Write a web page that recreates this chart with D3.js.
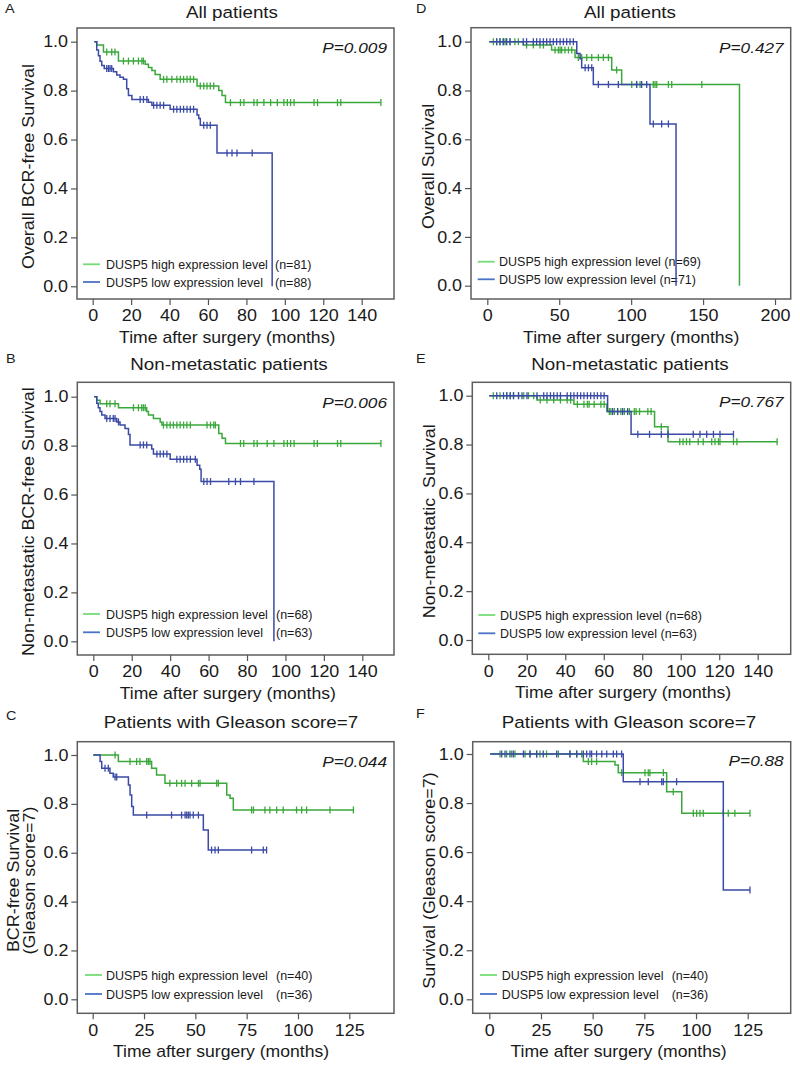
<!DOCTYPE html>
<html><head><meta charset="utf-8">
<script src="https://cdn.jsdelivr.net/npm/d3@7"></script>
<style>body{margin:0;background:#fff}svg{display:block}text{font-family:"Liberation Sans",Arial,sans-serif;fill:#1a1a1a}</style>
</head><body>
<svg id="c" width="800" height="1067"></svg>
<script>
// ---------- DATA (time in months, survival proportion) ----------
// Panel A: All patients, BCR-free survival
const aHighSteps = [[0.85,1],[2.1,0.987],[5.6,0.958],[13.4,0.921],[27.3,0.908],[29.0,0.895],[30.8,0.882],[32.5,0.866],[35.1,0.846],[54.3,0.819],[65.6,0.80],[67.3,0.78],[69.1,0.751]];
const aHighCensor = [7.3,9.9,11.6,16,18.6,21.2,23.8,25.6,26.4,36.9,38.6,41.2,43.8,45.6,47.3,49.1,50.8,52.5,56,57.8,59.5,61.2,63,71.7,76.9,78.7,83.9,85.6,89.1,92.6,96.1,99.5,101.3,103,104.8,115.2,117,127.4,129.1,150];
const aHighEnd = 150;
const aLowSteps = [[0.85,1],[2.1,0.966],[3.0,0.943],[3.8,0.92],[4.7,0.903],[6.0,0.89],[10.8,0.877],[12.5,0.864],[14.2,0.855],[16.0,0.846],[17.7,0.808],[18.6,0.78],[20.4,0.764],[29.0,0.752],[30.8,0.74],[40.3,0.724],[54.3,0.70],[55.2,0.686],[56.0,0.658],[64.7,0.545],[93.4,0]];
const aLowCensor = [7.3,8.2,9.0,9.9,24.7,26.4,28.2,31.7,33.4,35.1,36.9,42.1,43.8,45.6,47.3,49.1,50.8,52.5,57.8,59.5,61.2,69.9,72.5,75.1,83.0];
const aLowEnd = 93.4;

// Panel B: Non-metastatic patients, BCR-free survival
const bHighSteps = [[0.5,1],[1.8,0.985],[3.5,0.971],[13.1,0.955],[27.8,0.939],[28.7,0.925],[31.3,0.911],[34.8,0.897],[35.7,0.884],[65.3,0.85],[67.0,0.83],[68.8,0.809]];
const bHighCensor = [7.0,8.7,11.3,20.9,23.5,25.2,26.1,27.0,36.5,38.3,40.0,41.7,43.5,45.2,47.0,48.7,50.5,59.2,61.0,62.7,63.5,76.6,78.3,83.6,85.3,90.5,94.0,99.2,101.0,102.7,104.5,114.9,116.6,127.1,128.8,149.7];
const bHighEnd = 149.7;
const bLowSteps = [[0.5,1],[1.8,0.973],[2.6,0.955],[3.5,0.939],[4.4,0.925],[6.1,0.911],[12.2,0.897],[13.9,0.884],[16.5,0.870],[18.3,0.845],[19.1,0.803],[30.4,0.786],[31.3,0.766],[40.0,0.744],[54.0,0.720],[55.4,0.703],[56.1,0.653],[94.0,0]];
const bLowCensor = [7.0,8.7,10.4,11.3,13.1,24.4,26.1,27.8,33.1,34.8,36.5,38.3,43.5,45.2,47.0,48.7,50.5,53.1,57.5,59.2,61.0,70.5,74.0,76.6,83.6];
const bLowEnd = 94.0;

// Panel C: Gleason score = 7, BCR-free survival
const cHighSteps = [[0.3,1],[12.5,0.973],[28.7,0.946],[31.1,0.918],[35.2,0.884],[65.3,0.836],[66.9,0.823],[68.5,0.775]];
const cHighCensor = [10.9,18.2,21.4,23.0,26.3,27.1,27.9,37.6,40.9,43.3,45.0,48.2,51.5,52.3,60.4,61.2,77.4,78.3,83.9,86.3,89.6,92.8,99.3,101.8,104.2,115.6,127.0];
const cHighEnd = 127.0;
const cLowSteps = [[0.3,1],[3.6,0.973],[4.4,0.946],[8.4,0.925],[10.0,0.91],[17.4,0.877],[18.2,0.836],[19.0,0.789],[19.8,0.754],[53.9,0.693],[56.3,0.611]];
const cLowCensor = [6.0,7.6,10.9,11.7,26.3,38.4,43.3,45.0,45.8,46.6,47.4,49.0,51.5,57.9,59.6,61.2,77.4,83.1,84.7];
const cLowEnd = 84.7;

// Panel D: All patients, overall survival
const dHighSteps = [[1.4,1],[25.0,0.986],[44.7,0.966],[61.0,0.935],[86.5,0.884],[93.4,0.825],[175.3,0]];
const dHighCensor = [4.2,6.5,8.8,11.1,12.3,13.4,15.8,19.2,21.6,27.3,32.0,36.6,39.0,47.1,49.4,50.6,51.7,54.0,56.4,58.7,63.3,65.6,69.1,72.6,77.2,80.7,84.2,89.9,100.4,103.8,106.2,115.4,116.6,117.8,125.9,128.2,149.1];
const dHighEnd = 175.3;
const dLowSteps = [[1.4,1],[62.2,0.952],[64.5,0.93],[65.6,0.893],[73.7,0.825],[113.1,0.663],[131.2,0]];
const dLowCensor = [6.5,8.8,11.1,13.4,15.8,25.0,27.3,32.0,34.3,36.6,39.0,41.3,43.6,45.9,48.2,50.6,52.9,55.2,57.5,59.8,68.0,70.3,72.6,77.2,84.2,91.1,103.8,107.3,110.8,115.4,121.2,125.9];
const dLowEnd = 131.2;

// Panel E: Non-metastatic patients, survival
const eHighSteps = [[0.5,1],[25.3,0.982],[44.5,0.965],[61.6,0.935],[86.4,0.873],[93.4,0.812]];
const eHighCensor = [2.6,6.1,9.6,11.4,13.1,15.7,18.4,20.9,23.6,27.0,30.5,34.0,37.5,41.0,42.8,46.3,49.7,51.5,52.4,55.0,58.5,60.2,62.9,63.7,65.5,67.2,68.9,70.7,73.3,75.9,76.8,78.6,82.9,84.6,89.9,99.5,101.2,103.0,104.7,109.1,111.7,116.1,117.8,119.6,120.4,127.4,129.2,150.1];
const eHighEnd = 150.1;
const eLowSteps = [[0.5,1],[62.0,0.935],[74.2,0.842]];
const eLowCensor = [4.4,7.9,9.6,11.4,13.1,15.7,17.5,20.1,25.3,28.8,30.5,32.3,34.0,35.8,37.5,41.0,42.8,44.5,46.3,48.0,49.7,51.5,53.2,55.0,56.7,58.5,60.2,64.6,67.2,69.8,72.4,77.7,83.8,89.9,93.4,106.5,110.0,113.5,117.0,120.4,127.4];
const eLowEnd = 127.4;

// Panel F: Gleason score = 7, survival
const fHighSteps = [[0.4,1],[45.5,0.969],[60.8,0.955],[62.4,0.924],[85.8,0.846],[93.1,0.758]];
const fHighCensor = [5.2,8.4,10.8,12.4,17.3,19.7,22.9,24.5,27.7,33.4,39.0,42.3,44.7,47.9,49.5,51.9,64.0,75.3,76.9,77.7,84.2,89.0,98.7,100.3,101.9,103.5,113.2,115.6,118.8,126.1];
const fHighEnd = 126.1;
const fLowSteps = [[0.4,1],[64.8,0.887],[113.2,0.446]];
const fLowCensor = [6.0,7.6,10.0,11.6,16.5,19.7,22.9,26.1,32.6,39.0,42.3,45.5,47.1,48.7,49.5,51.9,54.4,56.8,60.0,61.6,64.0,72.9,76.9,83.4,84.2,90.6,126.1];
const fLowEnd = 126.1;

// Tick labels
const yTicks = [0, 0.2, 0.4, 0.6, 0.8, 1.0];
const xTicks140 = [0,20,40,60,80,100,120,140];
const xTicks200 = [0,50,100,150,200];
const xTicks125 = [0,25,50,75,100,125];

// Text
const letters = ["A","B","C","D","E","F"];
const titles = ["All patients","Non-metastatic patients","Patients with Gleason score=7","All patients","Non-metastatic patients","Patients with Gleason score=7"];
const pValues = ["P=0.009","P=0.006","P=0.044","P=0.427","P=0.767","P=0.88"];
const yLabels = [["Overall BCR-free Survival"],["Non-metastatic BCR-free Survival"],["BCR-free Survival","(Gleason score=7)"],["Overall Survival"],["Non-metastatic  Survival"],["Survival (Gleason score=7)"]];
const legendHigh = ["DUSP5 high expression level","DUSP5 high expression level","DUSP5 high expression level","DUSP5 high expression level (n=69)","DUSP5 high expression level (n=68)","DUSP5 high expression level"];
const legendLow = ["DUSP5 low expression level","DUSP5 low expression level","DUSP5 low expression level","DUSP5 low expression level (n=71)","DUSP5 low expression level (n=63)","DUSP5 low expression level"];
const nHigh = ["(n=81)","(n=68)","(n=40)","","","(n=40)"];
const nLow = ["(n=88)","(n=63)","(n=36)","","","(n=36)"];
const xTitle = "Time after surgery (months)";

// ---------- LAYOUT ----------
const GREEN = "#3aa83a", BLUE = "#3a4aa6", LGREEN = "#74dc74", LBLUE = "#4a72c6";
const SX = 1.12;
const layout = [
  {fx0:77,fy0:28,fx1:394,fy1:299, xd:[0,140], xr:[92.7,361.7], yr:[286.3,41.7], ticks:xTicks140, lx:5,ly:13, tx:232,ty:18, ylx:[34], leg:{lx:83,ly:264.3,tx:106,nx:275,dy:17.7}},
  {fx0:77.3,fy0:382.3,fx1:394,fy1:655, xd:[0,140], xr:[93.3,362.3], yr:[641.3,396.7], ticks:xTicks140, lx:6,ly:363, tx:229,ty:370, ylx:[34], leg:{lx:83,ly:614,tx:106,nx:276,dy:18.3}},
  {fx0:77.3,fy0:741.7,fx1:394,fy1:1013.3, xd:[0,125], xr:[92.7,349.3], yr:[999.3,755], ticks:xTicks125, lx:6,ly:720, tx:231,ty:728.3, ylx:[19,35], leg:{lx:85,ly:975,tx:106,nx:276,dy:19}},
  {fx0:471,fy0:27.7,fx1:790.7,fy1:299, xd:[0,200], xr:[487.3,775], yr:[285.7,41.7], ticks:xTicks200, lx:416,ly:13, tx:630,ty:18, ylx:[434], leg:{lx:477.7,ly:261.7,tx:499,nx:0,dy:17.6}},
  {fx0:472.3,fy0:382.3,fx1:790.7,fy1:654.3, xd:[0,140], xr:[488.3,757.7], yr:[640,395.7], ticks:xTicks140, lx:416,ly:363, tx:630,ty:370, ylx:[435], leg:{lx:478.3,ly:615,tx:500,nx:0,dy:18.3}},
  {fx0:472.7,fy0:741.7,fx1:790.7,fy1:1013.3, xd:[0,125], xr:[489.3,747.7], yr:[999.3,754], ticks:xTicks125, lx:416,ly:718, tx:629,ty:728.3, ylx:[435], leg:{lx:480,ly:975,tx:501.7,nx:671.7,dy:19}}
];
const series = [
  [{steps:aHighSteps,censor:aHighCensor,end:aHighEnd},{steps:aLowSteps,censor:aLowCensor,end:aLowEnd}],
  [{steps:bHighSteps,censor:bHighCensor,end:bHighEnd},{steps:bLowSteps,censor:bLowCensor,end:bLowEnd}],
  [{steps:cHighSteps,censor:cHighCensor,end:cHighEnd},{steps:cLowSteps,censor:cLowCensor,end:cLowEnd}],
  [{steps:dHighSteps,censor:dHighCensor,end:dHighEnd},{steps:dLowSteps,censor:dLowCensor,end:dLowEnd}],
  [{steps:eHighSteps,censor:eHighCensor,end:eHighEnd},{steps:eLowSteps,censor:eLowCensor,end:eLowEnd}],
  [{steps:fHighSteps,censor:fHighCensor,end:fHighEnd},{steps:fLowSteps,censor:fLowCensor,end:fLowEnd}]
];

const svg = d3.select("#c");
function txt(g, x, y, s, o) {
  o = o || {};
  const t = g.append("text")
    .attr("transform", `translate(${x},${y})${o.rot ? " rotate(-90)" : ""} scale(${o.sx || 1},1)`)
    .attr("text-anchor", o.anchor || "start")
    .style("font-size", (o.size || 12) + "px")
    .style("white-space", "pre")
    .text(s);
  if (o.italic) t.style("font-style", "italic");
  return t;
}
function stepAt(steps, t) {
  let v = steps[0][1];
  for (const s of steps) { if (s[0] <= t) v = s[1]; }
  return v;
}

layout.forEach((L, i) => {
  const g = svg.append("g");
  const x = d3.scaleLinear().domain(L.xd).range(L.xr);
  const y = d3.scaleLinear().domain([0, 1]).range(L.yr);

  // frame
  g.append("rect").attr("x", L.fx0).attr("y", L.fy0).attr("width", L.fx1 - L.fx0).attr("height", L.fy1 - L.fy0)
    .attr("fill", "none").attr("stroke", "#5e5e5e").attr("stroke-width", 1.5);

  // axes
  const ax = g.append("g").attr("transform", `translate(0,${L.fy1})`)
    .call(d3.axisBottom(x).tickValues(L.ticks).tickSize(6).tickPadding(5).tickFormat(d3.format("d")));
  ax.select(".domain").remove();
  ax.selectAll("line").attr("stroke", "#555").attr("stroke-width", 1.2);
  ax.selectAll("text").attr("font-family", null).attr("font-size", null).style("font-size", "16px").attr("transform", `scale(${SX},1)`);

  const ay = g.append("g").attr("transform", `translate(${L.fx0},0)`)
    .call(d3.axisLeft(y).tickValues(yTicks).tickSize(6).tickPadding(2).tickFormat(d3.format(".1f")));
  ay.select(".domain").remove();
  ay.selectAll("line").attr("stroke", "#555").attr("stroke-width", 1.2);
  ay.selectAll("text").attr("font-family", null).attr("font-size", null).style("font-size", "16px").attr("transform", `scale(${SX},1)`);

  // letters, titles, p-values, axis titles
  txt(g, L.lx, L.ly, letters[i], {size: 12, sx: 1.2});
  txt(g, L.tx, L.ty, titles[i], {size: 16.5, sx: 1.14, anchor: "middle"});
  txt(g, L.fx1 - 7, y(1) + 11.5, pValues[i], {size: 15, sx: 1.15, anchor: "end", italic: true});
  txt(g, (L.xr[0] + x(L.ticks[L.ticks.length - 1])) / 2, L.fy1 + 44, xTitle, {size: 16, sx: 1.1, anchor: "middle"});
  const yc = (L.fy0 + L.fy1) / 2 + 3;
  yLabels[i].forEach((s, k) => txt(g, L.ylx[k], yc, s, {size: 16, sx: SX, anchor: "middle", rot: true}));

  // legend
  const lg = L.leg;
  [[LGREEN, legendHigh[i], nHigh[i]], [LBLUE, legendLow[i], nLow[i]]].forEach((d, k) => {
    const yy = lg.ly + k * lg.dy;
    g.append("line").attr("x1", lg.lx).attr("x2", lg.lx + 17).attr("y1", yy).attr("y2", yy).attr("stroke", d[0]).attr("stroke-width", 1.8);
    txt(g, lg.tx, yy + 4.5, d[1], {size: 12.5});
    if (d[2]) txt(g, lg.nx, yy + 4.5, d[2], {size: 12.5});
  });

  // curves
  const line = d3.line().x(d => x(d[0])).y(d => y(d[1])).curve(d3.curveStepAfter);
  series[i].forEach((s, k) => {
    const col = k === 0 ? GREEN : BLUE;
    const pts = s.steps.concat([[s.end, s.steps[s.steps.length - 1][1]]]);
    g.append("path").attr("d", line(pts)).attr("fill", "none").attr("stroke", col).attr("stroke-width", 1.5);
    g.selectAll(null).data(s.censor).enter().append("line")
      .attr("x1", d => x(d)).attr("x2", d => x(d))
      .attr("y1", d => y(stepAt(s.steps, d)) - 3.5).attr("y2", d => y(stepAt(s.steps, d)) + 3.5)
      .attr("stroke", col).attr("stroke-width", 1.3);
  });
});
</script>
</body></html>
